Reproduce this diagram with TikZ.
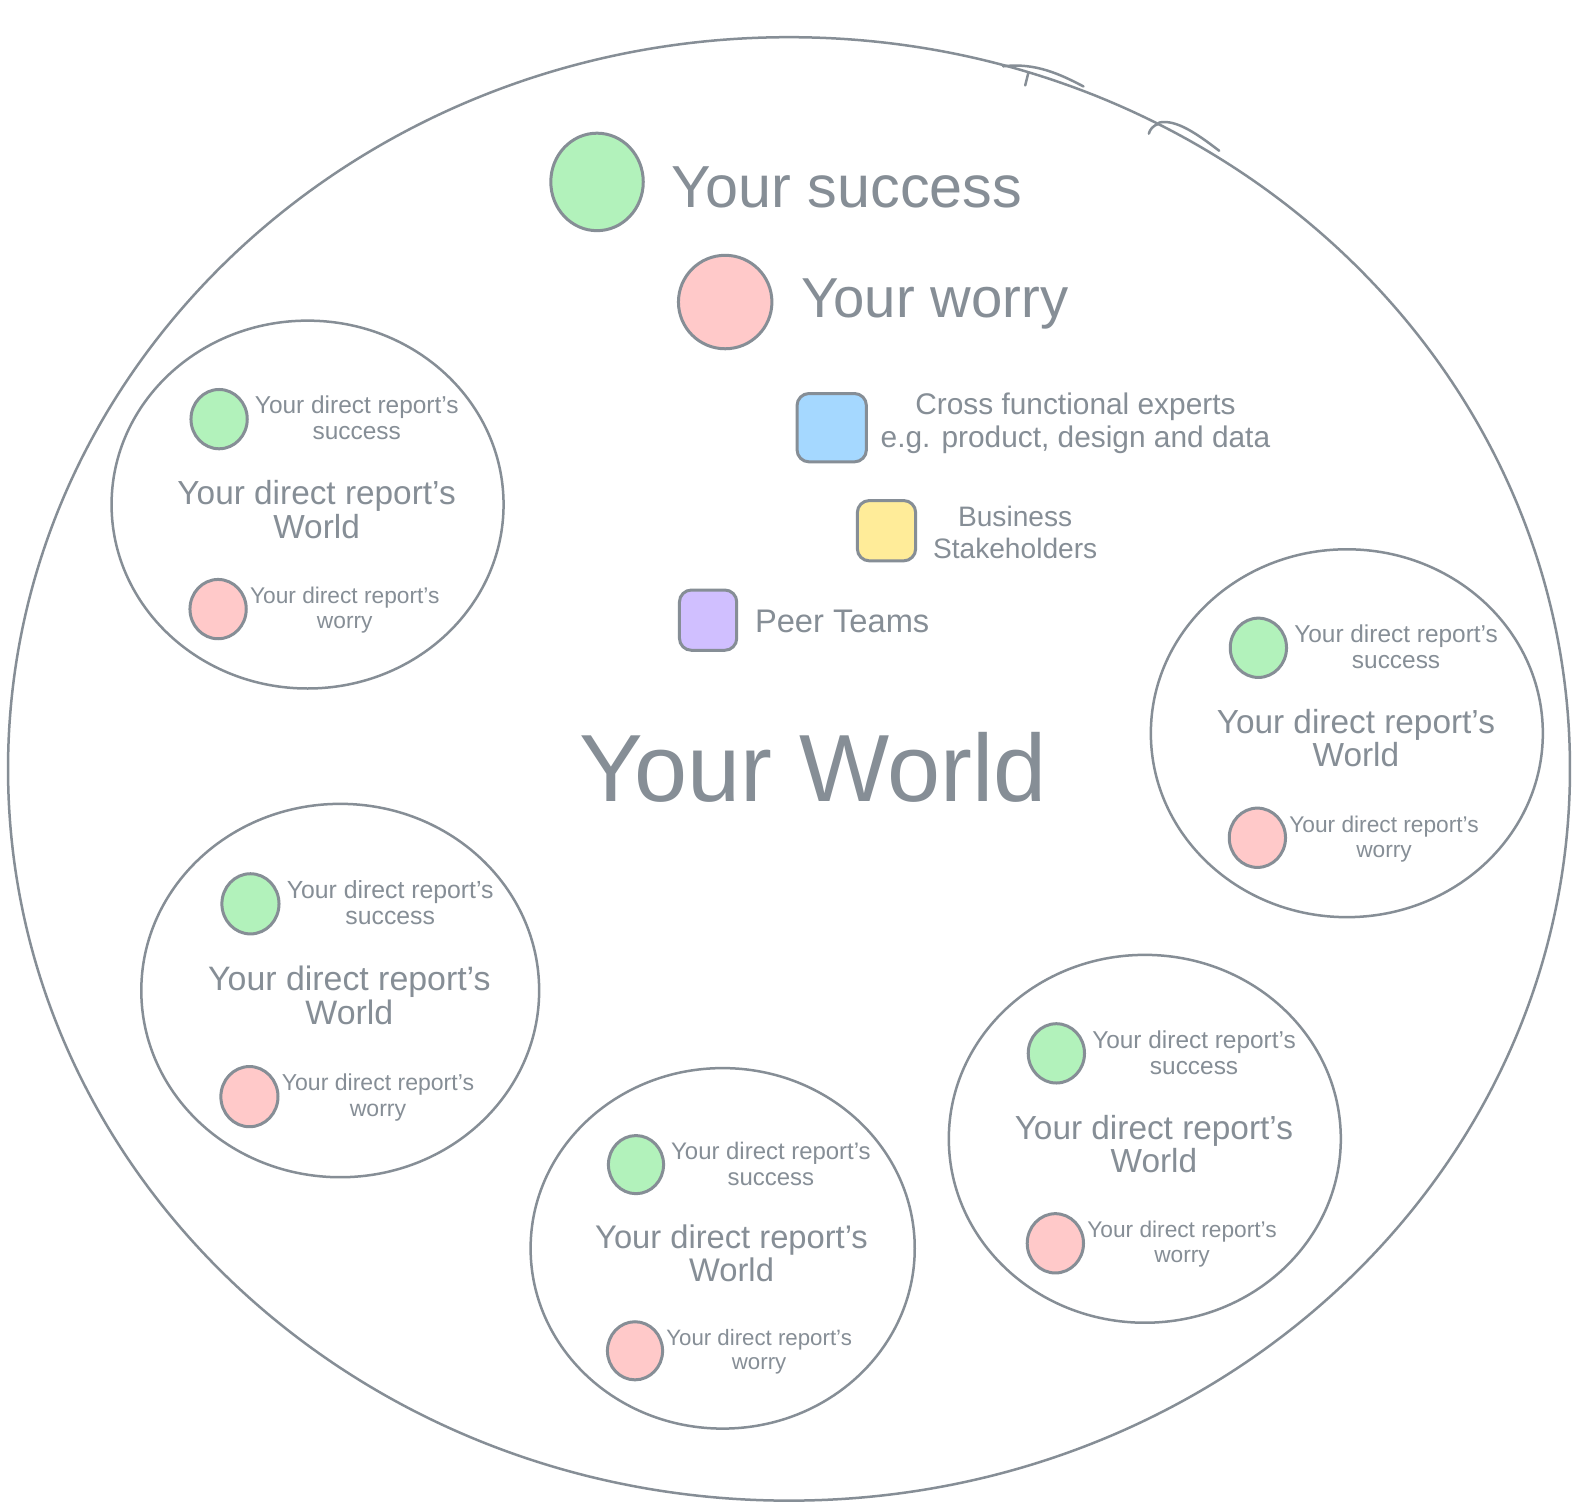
\documentclass[tikz,border=0pt]{standalone}
\usepackage{fontspec}
\setmainfont{Liberation Sans}
\usetikzlibrary{shapes.geometric}
\definecolor{ink}{HTML}{868E96}
\definecolor{gfill}{HTML}{B2F2BB}
\definecolor{rfill}{HTML}{FFC9C9}
\definecolor{bfill}{HTML}{A5D8FF}
\definecolor{yfill}{HTML}{FFEC99}
\definecolor{pfill}{HTML}{D0BFFF}
\tikzset{
  world/.style={ellipse, draw=ink, line width=2.5pt, inner sep=0pt},
  subworld/.style={ellipse, draw=ink, line width=2.5pt, inner sep=0pt, minimum width=390pt, minimum height=366pt},
  dot/.style={ellipse, draw=ink, line width=3pt, inner sep=0pt, minimum width=56pt, minimum height=59pt},
  bigdot/.style={ellipse, draw=ink, line width=3pt, inner sep=0pt},
  swatch/.style={draw=ink, line width=3pt, rounded corners=12pt, inner sep=0pt},
  lbl/.style={text=ink, align=center, inner sep=0pt},
  sketch/.style={draw=ink, line width=2.5pt, line cap=round},
}
\newcommand{\drworld}[4]{%
  \begin{scope}[shift={(#2,#3)}, scale=#4, transform shape]
    \node[subworld] (#1) at (0,0) {};
    \node[dot, fill=gfill] (#1-s) at (-88,-85) {};
    \node[lbl, font=\fontsize{24.3}{26}\selectfont] (#1-sl) at (49,-86) {Your direct report's\\success};
    \node[lbl, font=\fontsize{33.2}{33}\selectfont] (#1-w) at (9,5) {Your direct report's\\World};
    \node[dot, fill=rfill] (#1-r) at (-89,104) {};
    \node[lbl, font=\fontsize{22.6}{25}\selectfont] (#1-rl) at (37,105) {Your direct report's\\worry};
  \end{scope}}
\begin{document}
\begin{tikzpicture}[x=1pt, y=-1pt, scale=1.005, transform shape]
  \fill[white] (0,0) rectangle (1568,1502);
  \useasboundingbox (0,0) rectangle (1568,1502);
  % outer world
  \node[world, minimum width=1554pt, minimum height=1456pt] (yourworld) at (785,765) {};
  \draw[sketch] (998,66) .. controls (1030,62) and (1055,74) .. (1078,86);
  \draw[sketch] (1023,73) -- (1020,85);
  \draw[sketch] (1153,122) .. controls (1170,118) and (1192,134) .. (1213,150);
  \draw[sketch] (1153,123) .. controls (1147,125) and (1144,129) .. (1143,133);
  % main items
  \node[bigdot, fill=gfill, minimum width=92pt, minimum height=97pt] (succ) at (594,181) {};
  \node[lbl, anchor=base west, font=\fontsize{59}{60}\selectfont] (succl) at (668,206) {Your success};
  \node[bigdot, fill=rfill, minimum width=93pt, minimum height=93pt] (worry) at (721.5,300.5) {};
  \node[lbl, anchor=base west, font=\fontsize{56}{60}\selectfont] (worryl) at (797,316) {Your worry};
  \node[swatch, fill=bfill, minimum width=69pt, minimum height=68pt] (cross) at (827.5,425.5) {};
  \node[lbl, font=\fontsize{29.7}{33}\selectfont] (crossl) at (1070,421) {Cross functional experts\\e.g. product, design and data};
  \node[swatch, fill=yfill, minimum width=58pt, minimum height=60pt] (biz) at (882,528) {};
  \node[lbl, font=\fontsize{28}{32}\selectfont] (bizl) at (1010,530) {Business\\Stakeholders};
  \node[swatch, fill=pfill, minimum width=57pt, minimum height=60pt] (peer) at (704.5,617) {};
  \node[lbl, anchor=base west, font=\fontsize{32.5}{33}\selectfont] (peerl) at (751,629) {Peer Teams};
  \node[lbl, anchor=base, font=\fontsize{95}{95}\selectfont] (ywl) at (809,797) {Your World};
  % direct reports' worlds
  \drworld{dr1}{306}{502}{1}
  \drworld{dr2}{1340}{729.5}{1}
  \drworld{dr3}{338.5}{985.5}{1.015}
  \drworld{dr4}{719}{1242}{0.98}
  \drworld{dr5}{1139}{1133}{1}
\end{tikzpicture}
\end{document}
